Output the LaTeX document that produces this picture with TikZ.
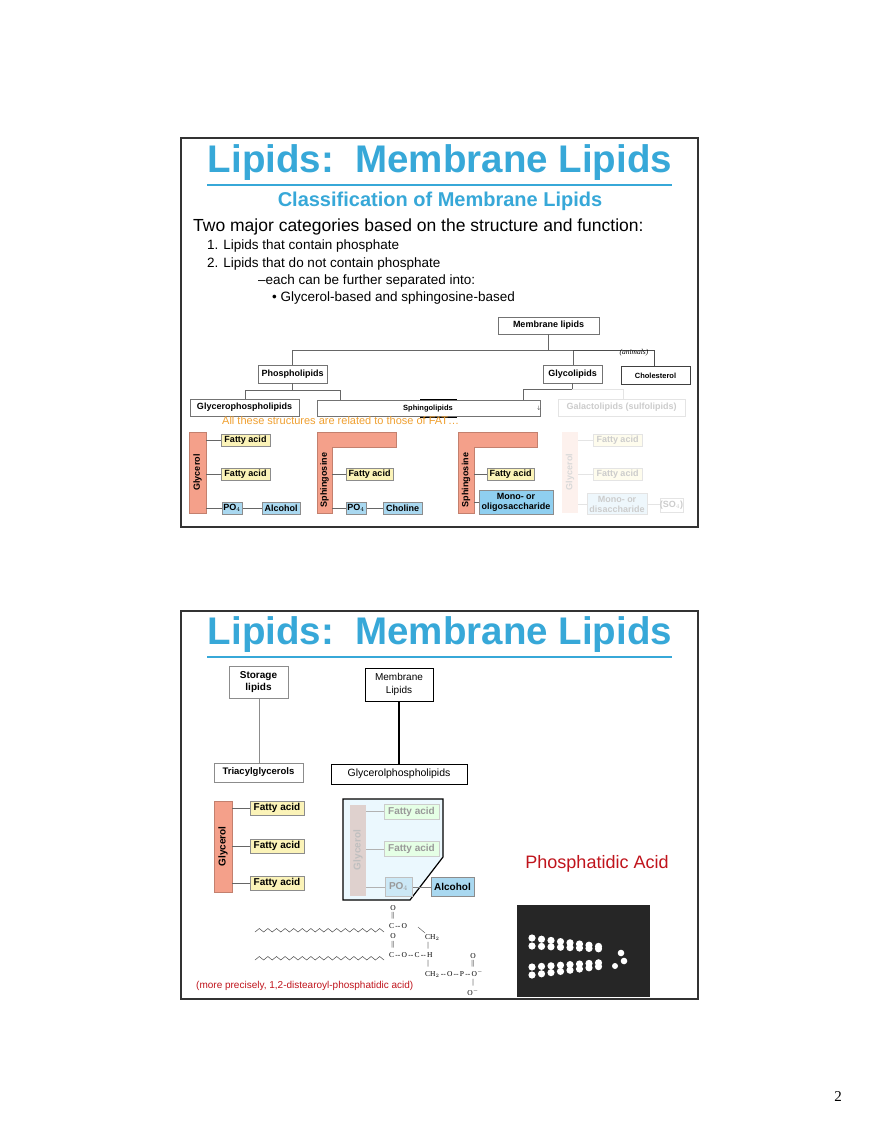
\documentclass[tikz,border=0pt]{standalone}
\usepackage{fontspec}
\setmainfont{Liberation Sans}
\newfontfamily\serifont{Liberation Serif}
\definecolor{ttl}{HTML}{37A8D8}
\definecolor{salm}{HTML}{F4A08A}
\definecolor{ylw}{HTML}{FBF3B8}
\definecolor{blu}{HTML}{A9D8F0}
\definecolor{blu2}{HTML}{8FCFF0}
\definecolor{pal}{HTML}{E4E4E4}
\definecolor{org}{HTML}{F0A030}
\definecolor{rd}{HTML}{C0141C}
\begin{document}
\begin{tikzpicture}[x=1pt,y=-1pt,
  fr/.style={draw=black!80,line width=1.2pt},
  lb/.style={draw=black!55,line width=0.6pt,fill=white},
  lt/.style={font=\bfseries\fontsize{9}{10}\selectfont},
  ln/.style={draw=black!60,line width=0.7pt},
  fa/.style={draw=black!45,fill=ylw,font=\bfseries\fontsize{9}{10}\selectfont},
  bl/.style={draw=black!45,fill=blu,font=\bfseries\fontsize{9}{10}\selectfont},
  pa/.style={draw=pal,text=black!20,font=\bfseries\fontsize{9}{10}\selectfont},
  bar/.style={fill=salm,draw=salm!80!black,line width=0.4pt},
  tt/.style={text=ttl,font=\bfseries\fontsize{38.5}{40}\selectfont},
  ch/.style={font=\serifont\fontsize{7.5}{7.5}\selectfont,inner sep=0}]
\useasboundingbox (0,0) rectangle (880,1139);
\fill[white] (0,0) rectangle (880,1139);
% ===== slide 1 =====
\draw[fr] (181,138) rectangle (698,527);
\node[tt] (t1) at (440,163) {Lipids:\ \ Membrane Lipids};
\draw[ttl,line width=2.5pt] (207,185) -- (672,185);
\node[text=ttl,font=\bfseries\fontsize{20}{22}\selectfont] (st) at (440,201) {Classification of Membrane Lipids};
\node[anchor=west,font=\fontsize{17.5}{18}\selectfont,inner sep=0] (b0) at (193,227) {Two major categories based on the structure and function:};
\node[anchor=west,font=\fontsize{13.5}{14}\selectfont,inner sep=0] (b1) at (207,246) {1. Lipids that contain phosphate};
\node[anchor=west,font=\fontsize{13.5}{14}\selectfont,inner sep=0] (b2) at (207,264) {2. Lipids that do not contain phosphate};
\node[anchor=west,font=\fontsize{13.5}{14}\selectfont,inner sep=0] (b3) at (258,281) {\textendash each can be further separated into:};
\node[anchor=west,font=\fontsize{13.5}{14}\selectfont,inner sep=0] (b4) at (272,298) {\textbullet\ Glycerol-based and sphingosine-based};
% tree
\draw[lb] (498,317) rectangle (599,334); \node[lt] (ml) at (548.5,325.5) {Membrane lipids};
\draw[ln] (548,334) -- (548,350);
\draw[ln] (292,365) -- (292,350) -- (573,350) -- (573,365);
\draw[line width=1pt,black!70] (573,350) -- (654,350) -- (654,366);
\node[font=\itshape\serifont\fontsize{7.5}{8}\selectfont] (an) at (634,353) {(animals)};
\draw[lb] (258,365) rectangle (327,383); \node[lt] (ph) at (292.5,374) {Phospholipids};
\draw[lb] (543,365) rectangle (602,383); \node[lt] (gl) at (572.5,374) {Glycolipids};
\draw[draw=black!75,line width=1pt,fill=white] (621,366) rectangle (690,384); \node[font=\bfseries\fontsize{7.5}{8}\selectfont] (cho) at (655.5,375.5) {Cholesterol};
\draw[ln] (292,383) -- (292,390); \draw[ln] (245,399) -- (245,390) -- (340,390) -- (340,400);
\draw[ln] (572,383) -- (572,389) -- (523,389) -- (523,400);
\draw[pal,line width=0.7pt] (572,389) -- (623,389) -- (623,399);
\draw[lb] (190,399) rectangle (299,416); \node[lt] (gp) at (244.5,407.5) {Glycerophospholipids};
\draw[lb] (317,400) rectangle (540,416); \node[font=\bfseries\fontsize{7.5}{8}\selectfont] (sp) at (428,408.5) {Sphingolipids};
\draw[line width=0.8pt] (420,399) -- (457,399); \draw[line width=0.8pt] (420,417) -- (457,417);
\node[font=\fontsize{5}{5}\selectfont] (ar) at (539,408) {$\downarrow$};
\draw[pal,line width=0.7pt,fill=white] (558,399) rectangle (685,416); \node[text=black!20,lt] (ga) at (621.5,407.5) {Galactolipids (sulfolipids)};
\node[anchor=west,text=org,font=\fontsize{11}{12}\selectfont,inner sep=0] (fat) at (222,421) {All these structures are related to those of FAT\ldots};
% glycerol structure
\draw[bar] (189,432) rectangle (206,513); \node[rotate=90,lt] (g1) at (197.5,472.5) {Glycerol};
\draw[ln] (206,440) -- (221,440); \draw[ln] (206,474) -- (221,474); \draw[ln] (206,508) -- (222,508); \draw[ln] (242,508) -- (262,508);
\node[fa,minimum width=49pt,minimum height=12pt,inner sep=0] (f1) at (245.5,440) {Fatty acid};
\node[fa,minimum width=49pt,minimum height=12pt,inner sep=0] (f2) at (245.5,474) {Fatty acid};
\node[bl,minimum width=20pt,minimum height=12pt,inner sep=0] (p1) at (232,508) {PO$_4$};
\node[bl,minimum width=38pt,minimum height=12pt,inner sep=0] (al1) at (281,508) {Alcohol};
% sphingosine 1
\draw[bar] (317,513) -- (317,432) -- (396,432) -- (396,447) -- (332,447) -- (332,513) -- cycle;
\node[rotate=90,lt] (s1) at (324.5,480) {Sphingosine};
\draw[ln] (332,474) -- (346,474); \draw[ln] (332,508) -- (346,508); \draw[ln] (366,508) -- (383,508);
\node[fa,minimum width=47pt,minimum height=12pt,inner sep=0] (f3) at (369.5,474) {Fatty acid};
\node[bl,minimum width=20pt,minimum height=12pt,inner sep=0] (p2) at (356,508) {PO$_4$};
\node[bl,minimum width=39pt,minimum height=12pt,inner sep=0] (chl) at (402.5,508) {Choline};
% sphingosine 2
\draw[bar] (458,513) -- (458,432) -- (537,432) -- (537,447) -- (474,447) -- (474,513) -- cycle;
\node[rotate=90,lt] (s2) at (466,480) {Sphingosine};
\draw[ln] (474,474) -- (487,474); \draw[ln] (474,502) -- (479,502);
\node[fa,minimum width=47pt,minimum height=12pt,inner sep=0] (f4) at (510.5,474) {Fatty acid};
\node[bl,fill=blu2,minimum width=74pt,minimum height=24pt,inner sep=0,align=center] (mo) at (516,502) {Mono- or\\oligosaccharide};
% pale glycerol
\fill[salm!15] (562,432) rectangle (578,513); \node[rotate=90,text=black!15,lt] (g2) at (570,472) {Glycerol};
\draw[pal] (578,440) -- (593,440); \draw[pal] (578,474) -- (593,474); \draw[pal] (578,504) -- (587,504); \draw[pal] (647,504) -- (660,504);
\node[pa,fill=ylw!25,minimum width=49pt,minimum height=12pt,inner sep=0] (f5) at (617.5,440) {Fatty acid};
\node[pa,fill=ylw!25,minimum width=49pt,minimum height=12pt,inner sep=0] (f6) at (617.5,474) {Fatty acid};
\node[pa,fill=blu!20,minimum width=60pt,minimum height=21pt,inner sep=0,align=center] (md) at (617,504) {Mono- or\\disaccharide};
\node[pa,fill=white,minimum width=23pt,minimum height=14pt,inner sep=0] (so) at (671.5,505) {(SO$_4$)};
% ===== slide 2 =====
\draw[fr] (181,611) rectangle (698,999);
\node[tt] (t2) at (440,635) {Lipids:\ \ Membrane Lipids};
\draw[ttl,line width=2.5pt] (207,657) -- (672,657);
\draw[black!45,line width=0.7pt] (259,698) -- (259,763);
\node[draw=black!45,line width=0.7pt,minimum width=59pt,minimum height=32pt,inner sep=0,align=center,font=\bfseries\fontsize{10}{12}\selectfont] (sl) at (258.5,682) {Storage\\lipids};
\node[draw=black!45,line width=0.7pt,minimum width=89pt,minimum height=19pt,inner sep=0,font=\bfseries\fontsize{9.5}{10}\selectfont] (tg) at (258.5,772.5) {Triacylglycerols};
\draw[black,line width=1.2pt] (399,701) -- (399,764);
\node[draw=black,line width=1pt,fill=white,minimum width=68pt,minimum height=33pt,inner sep=0,align=center,font=\fontsize{10}{13}\selectfont] (mb) at (399,684.5) {Membrane\\Lipids};
\node[draw=black,line width=1pt,minimum width=136pt,minimum height=20pt,inner sep=0,font=\fontsize{10.5}{11}\selectfont] (gpl) at (399,774) {Glycerolphospholipids};
\draw[bar] (214,801) rectangle (232,892); \node[rotate=90,font=\bfseries\fontsize{10}{10}\selectfont] (g3) at (223,846.5) {Glycerol};
\foreach \y/\n in {808/a,846/b,883/c}{
  \draw[ln] (232,\y) -- (250,\y);
  \node[fa,minimum width=54pt,minimum height=14pt,inner sep=0,font=\bfseries\fontsize{10}{10}\selectfont] (fa\n) at (277,\y) {Fatty acid};}
\draw[black,line width=1.2pt,fill=cyan!8] (343,799) -- (443,799) -- (443,857) -- (410,900) -- (343,900) -- cycle;
\fill[salm!40!gray!40] (350,805) rectangle (366,896);
\node[rotate=90,text=black!25,font=\bfseries\fontsize{10}{10}\selectfont] (g4) at (358,850) {Glycerol};
\draw[black!30] (366,811) -- (384,811); \draw[black!30] (366,849) -- (384,849); \draw[black!30] (366,887) -- (385,887); \draw[black!50] (412,887) -- (431,887);
\node[draw=black!20,fill=green!10,text=black!40,minimum width=55pt,minimum height=15pt,inner sep=0,font=\bfseries\fontsize{10}{10}\selectfont] (fd) at (411.5,811.5) {Fatty acid};
\node[draw=black!20,fill=green!10,text=black!40,minimum width=55pt,minimum height=15pt,inner sep=0,font=\bfseries\fontsize{10}{10}\selectfont] (fe) at (411.5,848.5) {Fatty acid};
\node[draw=black!25,fill=blu!60,text=black!40,minimum width=27pt,minimum height=19pt,inner sep=0,font=\bfseries\fontsize{10}{10}\selectfont] (p3) at (398.5,886.5) {PO$_4$};
\node[bl,minimum width=43pt,minimum height=19pt,inner sep=0,font=\bfseries\fontsize{10}{10}\selectfont] (al2) at (452.5,886.5) {Alcohol};
\node[text=rd,font=\fontsize{18}{18}\selectfont] (pa) at (597,864) {Phosphatidic Acid};
% structure
\draw[black!70,line width=0.5pt] (255,932) \foreach \i in {0,...,14}{ -- ++(4.3,-3.5) -- ++(4.3,3.5)};
\draw[black!70,line width=0.5pt] (255,960) \foreach \i in {0,...,14}{ -- ++(4.3,-3.5) -- ++(4.3,3.5)};
\node[ch] (o1) at (393,908) {O};
\node[ch] (d1) at (393,916) {$\|$};
\node[ch,anchor=west] (co1) at (389,926) {C\,--\,O};
\node[ch] (o2) at (393,936) {O};
\node[ch] (d2) at (393,945) {$\|$};
\node[ch,anchor=west] (co2) at (389,955) {C\,--\,O\,--\,C\,--\,H};
\node[ch,anchor=west] (c2a) at (425,938) {CH$_2$};
\node[ch] (v1) at (428,946) {|};
\node[ch] (v2) at (428,964) {|};
\node[ch,anchor=west] (c2b) at (425,974) {CH$_2$\,--\,O\,--\,P\,--\,O$^-$};
\node[ch] (o3) at (473,956) {O};
\node[ch] (d3) at (473,964) {$\|$};
\node[ch] (v3) at (473,983) {|};
\node[ch] (o4) at (473,992) {O$^-$};
\draw[black!70,line width=0.4pt] (418,927) -- (425,933);
\fill[black!85] (517,905) rectangle (650,997);
\foreach \i in {0,...,7}{\fill[white] (532+\i*9.5,938+\i*1.2) circle (3.6); \fill[white] (532+\i*9.5,946+\i*0.4) circle (3.6);}
\foreach \i in {0,...,7}{\fill[white] (532+\i*9.5,975-\i*1.2) circle (3.6); \fill[white] (532+\i*9.5,967-\i*0.6) circle (3.6);}
\fill[white] (621,953) circle (3.3); \fill[white] (624,961) circle (3.3); \fill[white] (615,966) circle (3);
\node[anchor=west,text=rd,font=\fontsize{10}{10}\selectfont,inner sep=0] (mp) at (196,986) {(more precisely, 1,2-distearoyl-phosphatidic acid)};
\node[font=\serifont\fontsize{15}{15}\selectfont] (pg) at (838,1097) {2};
\end{tikzpicture}
\end{document}
